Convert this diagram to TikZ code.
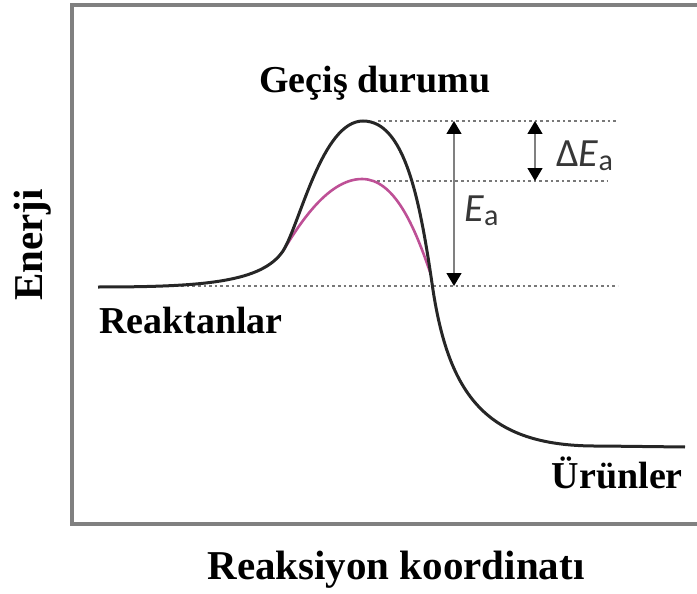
\documentclass[tikz,border=0pt]{standalone}
\usepackage{fontspec}
\setmainfont{Liberation Serif}
\newfontfamily\calfont{Carlito}
\usetikzlibrary{arrows.meta}
\definecolor{framegray}{RGB}{128,128,128}
\definecolor{levelgray}{RGB}{120,120,120}
\definecolor{catpink}{RGB}{190,80,150}
\definecolor{symgray}{RGB}{55,55,55}

\begin{document}
\begin{tikzpicture}[x=1pt, y=-1pt,
    lbl/.style={font=\fontsize{38}{40}\selectfont\bfseries, inner sep=0pt},
    axlbl/.style={font=\fontsize{41}{44}\selectfont\bfseries, inner sep=0pt},
    sym/.style={font=\calfont\fontsize{40}{44}\selectfont, text=symgray, inner sep=0pt},
    frame/.style={framegray, line width=4.5pt},
    level/.style={levelgray, line width=2.4pt, dash pattern=on 2.6pt off 3pt},
    curve/.style={black!85, line width=3pt},
    lowcurve/.style={catpink, line width=2.6pt},
    gap/.style={{Triangle[width=15pt,length=13pt,color=black]}-{Triangle[width=15pt,length=13pt,color=black]},
                gray, line width=1.4pt}
  ]
  \useasboundingbox (0,0) rectangle (697,594);
  \clip (0,0) rectangle (697,594);

  % frame, open on the right
  \draw[frame] (700,5) -- (72,5) -- (72,524) -- (700,524);

  % levels
  \coordinate (tsA) at (378,121);
  \coordinate (tsB) at (618,121);
  \coordinate (catA) at (377,181);
  \coordinate (catB) at (608,181);
  \coordinate (reA) at (170,286);
  \coordinate (reB) at (618,286);
  \draw[level] (tsA) -- (tsB);
  \draw[level] (catA) -- (catB);
  \draw[level] (reA) -- (reB);

  % energy curves
  \coordinate (split) at (283,251);
  \coordinate (join) at (430,272);
  \draw[lowcurve] (split) .. controls (296,230) and (326,179) .. (362,179)
                          .. controls (394,179) and (414,225) .. (join);
  \draw[curve] (98,287) .. controls (205,287) and (262,282) .. (split)
               .. controls (300,224) and (322,121) .. (363,121)
               .. controls (405,121) and (420,200) .. (433,290)
               .. controls (450,400) and (490,447) .. (600,446)
               -- (685,447);

  % gaps
  \coordinate (eaTop) at (454,121);
  \coordinate (eaBot) at (454,286);
  \coordinate (deTop) at (535,121);
  \coordinate (deBot) at (535,181);
  \draw[gap] (eaBot) -- (eaTop);
  \draw[gap] (deBot) -- (deTop);
  \node[sym, anchor=base west] (ea) at (464,221) {\textit{E}\raisebox{-0.22ex}{\fontsize{30}{32}\selectfont a}};
  \node[sym, anchor=base west] (dea) at (556,166) {Δ\textit{E}\raisebox{-0.22ex}{\fontsize{30}{32}\selectfont a}};

  % labels
  \node[lbl, anchor=base] (ts) at (375,93) {Geçiş durumu};
  \node[lbl, anchor=base west] (reac) at (99,333) {Reaktanlar};
  \node[lbl, anchor=base east] (prod) at (683,488) {Ürünler};
  \node[axlbl, anchor=base, rotate=90] (yax) at (42,245) {Enerji};
  \node[axlbl, anchor=base] (xax) at (396,579) {Reaksiyon koordinatı};
\end{tikzpicture}
\end{document}
